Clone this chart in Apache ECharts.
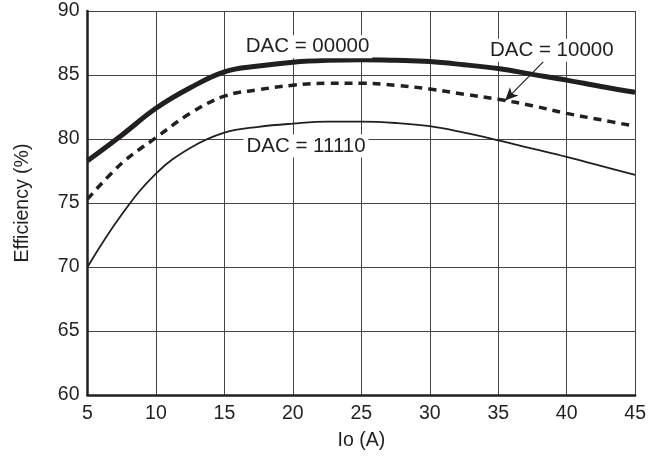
<!DOCTYPE html>
<html>
<head>
<meta charset="utf-8">
<script src="https://cdn.jsdelivr.net/npm/echarts@6/dist/echarts.min.js"></script>
<style>
  html, body { margin: 0; padding: 0; background: #fff; }
  #chart { width: 649px; height: 459px; }
</style>
</head>
<body>
<div id="chart"></div>
<script>
var io = [5, 7.5, 10, 12.5, 15, 17.5, 20, 22.5, 25, 27.5, 30, 32.5, 35, 37.5, 40, 42.5, 45];
var eff00000 = [78.3, 80.3, 82.4, 84.0, 85.25, 85.7, 86.0, 86.15, 86.2, 86.15, 86.05, 85.8, 85.5, 85.05, 84.6, 84.1, 83.65];
var eff10000 = [75.3, 78.1, 80.1, 82.0, 83.35, 83.85, 84.2, 84.35, 84.35, 84.2, 83.9, 83.5, 83.1, 82.6, 82.0, 81.5, 81.0];
var eff11110 = [70.0, 74.1, 77.3, 79.3, 80.5, 80.95, 81.2, 81.35, 81.35, 81.25, 81.0, 80.5, 79.9, 79.25, 78.6, 77.9, 77.2];

// label anchors, in data units
var label00000 = [21.07, 87.2];
var label10000 = [38.91, 86.93];
var label11110 = [20.96, 79.45];
var arrowFrom = [38.3, 86.04];
var arrowTo = [35.5, 83.0];

var ink = "#231f20";
var font = "Liberation Sans, Arial, sans-serif";

function pairs(ys) {
  return io.map(function (x, i) {
    return [x, ys[i]];
  });
}

function tag(text, pos) {
  return {
    symbol: "circle",
    symbolSize: 1,
    itemStyle: { color: "transparent" },
    label: {
      show: true,
      position: "inside",
      color: ink,
      fontFamily: font,
      fontSize: 20.5,
      backgroundColor: "#fff",
      padding: [1, 3],
      formatter: text,
    },
    data: [{ coord: pos }],
  };
}

var myChart = echarts.init(document.getElementById("chart"), null, { renderer: "canvas" });

var option = {
  animation: false,
  backgroundColor: "#fff",
  grid: { left: 87.5, right: 13.5, top: 11, bottom: 64 },
  xAxis: {
    type: "value",
    min: 5,
    max: 45,
    interval: 5,
    name: "Io (A)",
    nameLocation: "middle",
    nameGap: 36,
    nameTextStyle: { color: ink, fontFamily: font, fontSize: 19.5 },
    axisLine: { show: true, onZero: false, lineStyle: { color: ink, width: 2.5 } },
    axisTick: { show: false },
    axisLabel: { color: ink, fontFamily: font, fontSize: 19.5, margin: 9 },
    splitLine: { show: true, lineStyle: { color: "#444", width: 1 } },
  },
  yAxis: {
    type: "value",
    min: 60,
    max: 90,
    interval: 5,
    name: "Efficiency (%)",
    nameLocation: "middle",
    nameGap: 55,
    nameTextStyle: { color: ink, fontFamily: font, fontSize: 19.5 },
    axisLine: { show: true, onZero: false, lineStyle: { color: ink, width: 2.5 } },
    axisTick: { show: false },
    axisLabel: { color: ink, fontFamily: font, fontSize: 19.5, margin: 8 },
    splitLine: { show: true, lineStyle: { color: "#444", width: 1 } },
  },
  series: [
    {
      name: "DAC = 11110",
      type: "line",
      data: pairs(eff11110),
      smooth: 0.4,
      showSymbol: false,
      lineStyle: { color: ink, width: 1.8 },
      markPoint: tag("DAC = 11110", label11110),
    },
    {
      name: "DAC = 10000",
      type: "line",
      data: pairs(eff10000),
      smooth: 0.4,
      showSymbol: false,
      lineStyle: { color: ink, width: 3.5, type: [8, 6] },
      markPoint: tag("DAC = 10000", label10000),
      markLine: {
        silent: true,
        symbol: ["none", "arrow"],
        symbolSize: [9, 13],
        label: { show: false },
        lineStyle: { color: ink, width: 1.2, type: "solid" },
        data: [[{ coord: arrowFrom }, { coord: arrowTo }]],
      },
    },
    {
      name: "DAC = 00000",
      type: "line",
      data: pairs(eff00000),
      smooth: 0.4,
      showSymbol: false,
      lineStyle: { color: ink, width: 5 },
      markPoint: tag("DAC = 00000", label00000),
    },
  ],
};

myChart.setOption(option);
</script>
</body>
</html>
